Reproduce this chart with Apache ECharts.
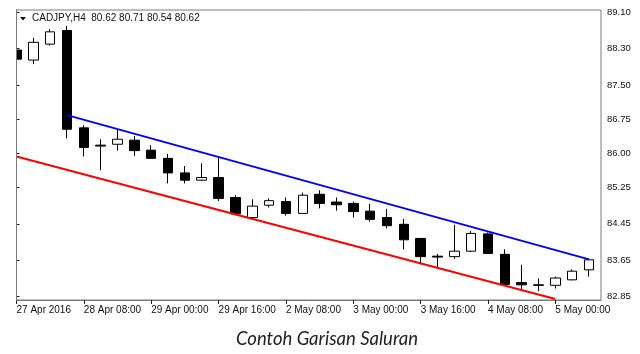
<!DOCTYPE html>
<html>
<head>
<meta charset="utf-8">
<script src="https://cdn.jsdelivr.net/npm/echarts@6/dist/echarts.min.js"></script>
<style>
html,body{margin:0;padding:0;background:#fff;}
#c{width:640px;height:354px;}
</style>
</head>
<body>
<div id="c"></div>
<script>
// H4 candles, index 0 = 27 Apr 2016 16:00
const opens  = [88.27,88.05,88.40,88.70,86.56,86.18,86.20,86.29,86.07,85.89,85.57,85.41,85.47,85.03,84.59,84.86,84.94,84.68,85.10,84.93,84.90,84.73,84.59,84.44,84.13,83.74,83.73,83.85,84.23,83.78,83.16,83.11,83.10,83.22,83.44];
const closes = [88.07,88.44,88.67,86.53,86.13,86.16,86.31,86.06,85.89,85.57,85.41,85.47,85.01,84.67,84.84,84.96,84.68,85.08,84.90,84.87,84.72,84.55,84.41,84.10,83.73,83.72,83.85,84.24,83.80,83.12,83.11,83.10,83.26,83.41,83.66];
const lows   = [87.88,87.96,88.37,86.33,85.93,85.63,86.06,85.94,85.88,85.34,85.34,85.39,84.95,84.66,84.57,84.81,84.63,84.68,84.79,84.74,84.59,84.50,84.35,83.89,83.56,83.47,83.68,83.83,83.80,83.09,83.00,82.97,83.03,83.21,83.29];
const highs  = [88.43,88.54,88.73,88.80,86.62,86.31,86.53,86.38,86.18,85.99,85.72,85.78,85.93,85.08,84.99,85.01,85.03,85.14,85.19,85.03,84.94,84.89,84.78,84.56,84.14,83.79,84.43,84.29,84.26,83.89,83.55,83.25,83.29,83.45,83.67];

// time axis tick labels (candle index -> label)
const tickIndex  = [0,4,8,12,16,20,24,28,32];
const tickLabels = ['27 Apr 2016','28 Apr 08:00','29 Apr 00:00','29 Apr 16:00','2 May 08:00','3 May 00:00','3 May 16:00','4 May 08:00','5 May 00:00'];

// price axis tick labels
const priceTicks = [82.85,83.65,84.45,85.25,86.00,86.75,87.50,88.30,89.10];

// channel lines (candle index, price)
const upperX = [3, 34];
const upperY = [86.84, 83.67];
const lowerX = [0, 32];
const lowerY = [85.93, 82.80];

const header = 'CADJPY,H4  80.62 80.71 80.54 80.62';
const caption = 'Contoh Garisan Saluran';

const candleData = opens.map((o, i) => [i, o, closes[i], lows[i], highs[i]]);
const upperData = upperX.map((x, i) => [x, upperY[i]]);
const lowerData = lowerX.map((x, i) => [x, lowerY[i]]);

const chart = echarts.init(document.getElementById('c'), null, {renderer: 'canvas'});
const axisColor = '#7a7a7a';
chart.setOption({
  animation: false,
  backgroundColor: '#ffffff',
  grid: {left: 16, right: 39, top: 10, bottom: 54, show: true, borderColor: axisColor, borderWidth: 1},
  xAxis: {
    type: 'value', min: -0.03, max: 34.71,
    splitLine: {show: false},
    axisLine: {show: true, lineStyle: {color: axisColor, width: 1}},
    axisTick: {show: true, customValues: tickIndex, length: 4, lineStyle: {color: '#222'}},
    axisLabel: {
      customValues: tickIndex,
      formatter: v => tickLabels[tickIndex.indexOf(Math.round(v))] || '',
      align: 'left', margin: 5, color: '#111',
      fontFamily: 'Liberation Sans', fontSize: 10
    }
  },
  yAxis: {
    type: 'value', position: 'right', min: 82.777, max: 89.15,
    splitLine: {show: false},
    axisLine: {show: true, lineStyle: {color: axisColor, width: 1}},
    axisTick: {show: true, customValues: priceTicks, length: 3, lineStyle: {color: '#222'}},
    axisLabel: {
      customValues: priceTicks,
      formatter: v => Number(v).toFixed(2),
      margin: 6, color: '#111',
      fontFamily: 'Liberation Sans', fontSize: 9.5
    }
  },
  series: [
    {
      type: 'candlestick',
      data: candleData,
      barWidth: 10,
      clip: true,
      itemStyle: {color: '#ffffff', color0: '#000000', borderColor: '#000000', borderColor0: '#000000', borderWidth: 1}
    },
    {
      type: 'line', data: upperData, symbol: 'none', clip: true,
      lineStyle: {color: '#0000ff', width: 2}
    },
    {
      type: 'line', data: lowerData, symbol: 'none', clip: true,
      lineStyle: {color: '#ff0000', width: 2}
    }
  ],
  graphic: [
    {type: 'rect', z: 100, shape: {x: 0, y: 9, width: 16, height: 292}, style: {fill: '#ffffff'}},
    {type: 'line', z: 101, shape: {x1: 16.5, y1: 9.5, x2: 16.5, y2: 300.5}, style: {stroke: axisColor, lineWidth: 1}},
    {type: 'polygon', shape: {points: [[20, 17], [26, 17], [23, 20.5]]}, style: {fill: '#111'}},
    {type: 'text', left: 32, top: 13, style: {text: header, fill: '#111', font: '10px "Liberation Sans"'}},
    {type: 'text', x: 327, y: 339, style: {text: caption, fill: '#222', font: 'italic 18.5px Lato', textAlign: 'center', textVerticalAlign: 'middle'}}
  ]
});
</script>
</body>
</html>
